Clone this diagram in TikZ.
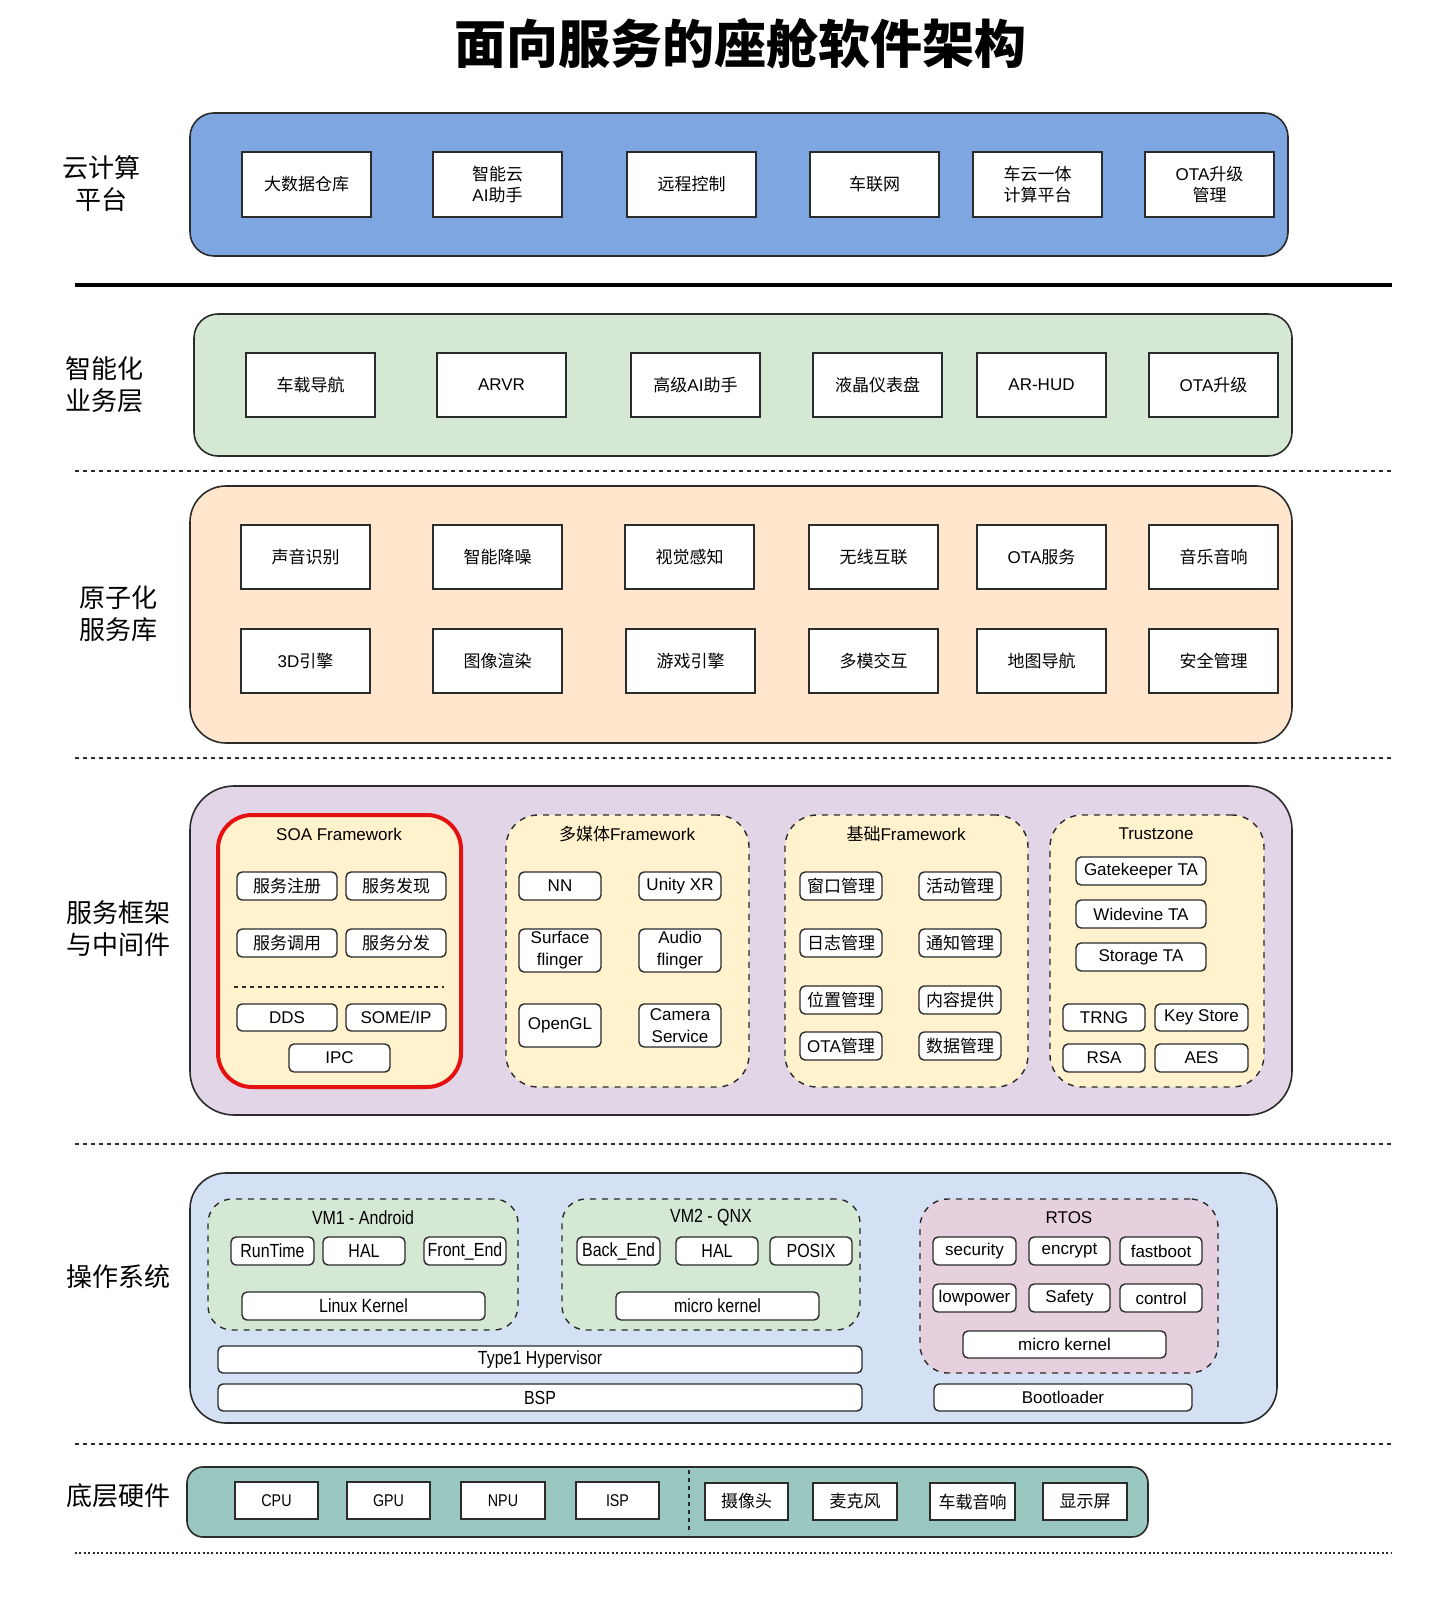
\documentclass[tikz,border=0pt]{standalone}
\usepackage{fontspec}
\setmainfont{Liberation Sans}
\newfontfamily\cjk{Noto Sans CJK SC}
\newfontfamily\narrowfont{Liberation Sans}[FakeStretch=0.84]
\XeTeXinterchartokenstate=1
\newXeTeXintercharclass\CJKcls
\newcount\cjkc
\cjkc="4E00
\loop\XeTeXcharclass\cjkc=\CJKcls\ifnum\cjkc<"9FFF\advance\cjkc by 1\repeat
\cjkc="3000
\loop\XeTeXcharclass\cjkc=\CJKcls\ifnum\cjkc<"303F\advance\cjkc by 1\repeat
\cjkc="FF00
\loop\XeTeXcharclass\cjkc=\CJKcls\ifnum\cjkc<"FFEF\advance\cjkc by 1\repeat
\XeTeXinterchartoks 0 \CJKcls={\begingroup\cjk}
\XeTeXinterchartoks 4095 \CJKcls={\begingroup\cjk}
\XeTeXinterchartoks \CJKcls 0={\endgroup}
\XeTeXinterchartoks \CJKcls 4095={\endgroup}
\definecolor{cloudc}{HTML}{7EA6E0}
\definecolor{bizc}{HTML}{D5E8D4}
\definecolor{atomc}{HTML}{FFE6CC}
\definecolor{fwc}{HTML}{E1D5E7}
\definecolor{yelc}{HTML}{FFF2CC}
\definecolor{osc}{HTML}{D4E1F5}
\definecolor{vmc}{HTML}{D5E8D4}
\definecolor{rtosc}{HTML}{E6D0DE}
\definecolor{hwc}{HTML}{9AC7BF}
\definecolor{redc}{HTML}{E51010}
\definecolor{linec}{HTML}{2B2B2B}
\newcommand\mybox[7][]{\node[#1, minimum width={(#5-#3)*0.5pt}, minimum height={(#6-#4)*0.5pt}] (#2) at ({(#3+#5)/2},{(#4+#6)/2}) {#7};}
\begin{document}
\begin{tikzpicture}[x=0.5pt,y=-0.5pt,
  layer/.style={draw=linec, line width=0.8pt, rounded corners=12pt, inner sep=0pt, outer sep=0pt},
  sq/.style={draw=linec, fill=white, line width=0.7pt, inner sep=1pt, outer sep=0pt, align=center, font=\fontsize{8.5}{10.5}\selectfont},
  rb/.style={sq, rounded corners=2.5pt},
  ob/.style={rb, inner sep=0.5pt, font=\narrowfont\fontsize{9.5}{11}\selectfont},
  hb/.style={sq, font=\narrowfont\fontsize{8.5}{10}\selectfont},
  grp/.style={draw=linec, dashed, line width=0.7pt, rounded corners=16pt, inner sep=0pt, outer sep=0pt},
  ttl/.style={font=\fontsize{8.5}{10}\selectfont, inner sep=0pt},
  ottl/.style={font=\narrowfont\fontsize{9.5}{11}\selectfont, inner sep=0pt},
  lab/.style={font=\fontsize{13}{16}\selectfont, align=center, inner sep=0pt},
  sepl/.style={draw=linec, line width=0.7pt, dash pattern=on 2pt off 2pt}
]
\useasboundingbox (0,0) rectangle (1440,1604);
\fill[white] (0,0) rectangle (1440,1604);

% title
\node[font=\fontsize{26}{30}\selectfont\bfseries, inner sep=0pt] (title) at (740,44) {面向服务的座舱软件架构};

% ---------- cloud layer
\mybox[layer, fill=cloudc]{cloud}{190}{113}{1288}{256}{}
\node[lab] (lcloud) at (101,184) {云计算\\平台};
\mybox[sq]{c1}{242}{152}{371}{217}{大数据仓库}
\mybox[sq]{c2}{433}{152}{562}{217}{智能云\\AI助手}
\mybox[sq]{c3}{627}{152}{756}{217}{远程控制}
\mybox[sq]{c4}{810}{152}{939}{217}{车联网}
\mybox[sq]{c5}{973}{152}{1102}{217}{车云一体\\计算平台}
\mybox[sq]{c6}{1145}{152}{1274}{217}{OTA升级\\管理}
\draw[line width=2pt] (75,285) -- (1392,285);

% ---------- business layer
\mybox[layer, fill=bizc]{biz}{194}{314}{1292}{456}{}
\node[lab] (lbiz) at (104,385) {智能化\\业务层};
\mybox[sq]{b1}{246}{353}{375}{417}{车载导航}
\mybox[sq]{b2}{437}{353}{566}{417}{ARVR}
\mybox[sq]{b3}{631}{353}{760}{417}{高级AI助手}
\mybox[sq]{b4}{813}{353}{942}{417}{液晶仪表盘}
\mybox[sq]{b5}{977}{353}{1106}{417}{AR-HUD}
\mybox[sq]{b6}{1149}{353}{1278}{417}{OTA升级}
\draw[sepl] (75,471) -- (1392,471);

% ---------- atomic services
\mybox[layer, fill=atomc, rounded corners=18pt]{atom}{190}{486}{1292}{743}{}
\node[lab] (latom) at (118,614) {原子化\\服务库};
\mybox[sq]{a1}{241}{525}{370}{589}{声音识别}
\mybox[sq]{a2}{433}{525}{562}{589}{智能降噪}
\mybox[sq]{a3}{625}{525}{754}{589}{视觉感知}
\mybox[sq]{a4}{809}{525}{938}{589}{无线互联}
\mybox[sq]{a5}{977}{525}{1106}{589}{OTA服务}
\mybox[sq]{a6}{1149}{525}{1278}{589}{音乐音响}
\mybox[sq]{a7}{241}{629}{370}{693}{3D引擎}
\mybox[sq]{a8}{433}{629}{562}{693}{图像渲染}
\mybox[sq]{a9}{626}{629}{755}{693}{游戏引擎}
\mybox[sq]{a10}{809}{629}{938}{693}{多模交互}
\mybox[sq]{a11}{977}{629}{1106}{693}{地图导航}
\mybox[sq]{a12}{1149}{629}{1278}{693}{安全管理}
\draw[sepl] (75,758) -- (1392,758);

% ---------- framework & middleware
\mybox[layer, fill=fwc, rounded corners=22pt]{fw}{190}{786}{1292}{1115}{}
\node[lab] (lfw) at (118,929) {服务框架\\与中间件};
% SOA
\mybox[draw=redc, line width=2pt, fill=yelc, rounded corners=17pt, inner sep=0pt]{soa}{218}{815}{461}{1087}{}
\node[ttl] (soat) at (339,834) {SOA Framework};
\mybox[rb]{s1}{237}{872}{337}{900}{服务注册}
\mybox[rb]{s2}{346}{872}{446}{900}{服务发现}
\mybox[rb]{s3}{237}{929}{337}{957}{服务调用}
\mybox[rb]{s4}{346}{929}{446}{957}{服务分发}
\draw[sepl] (234,987) -- (444,987);
\mybox[rb]{s5}{237}{1004}{337}{1031}{DDS}
\mybox[rb]{s6}{346}{1004}{446}{1031}{SOME/IP}
\mybox[rb]{s7}{289}{1044}{390}{1072}{IPC}
% multimedia
\mybox[grp, fill=yelc]{mm}{506}{815}{749}{1087}{}
\node[ttl] (mmt) at (627,834) {多媒体Framework};
\mybox[rb]{m1}{519}{872}{601}{900}{NN}
\mybox[rb]{m2}{639}{872}{721}{900}{Unity XR}
\mybox[rb, font=\fontsize{8.5}{11}\selectfont]{m3}{519}{929}{601}{972}{Surface\\flinger}
\mybox[rb, font=\fontsize{8.5}{11}\selectfont]{m4}{639}{929}{721}{972}{Audio\\flinger}
\mybox[rb]{m5}{519}{1004}{601}{1047}{OpenGL}
\mybox[rb, font=\fontsize{8.5}{11}\selectfont]{m6}{639}{1004}{721}{1047}{Camera\\Service}
% basic framework
\mybox[grp, fill=yelc]{bf}{785}{815}{1028}{1087}{}
\node[ttl] (bft) at (906,834) {基础Framework};
\mybox[rb]{f1}{800}{872}{882}{900}{窗口管理}
\mybox[rb]{f2}{919}{872}{1001}{900}{活动管理}
\mybox[rb]{f3}{800}{929}{882}{957}{日志管理}
\mybox[rb]{f4}{919}{929}{1001}{957}{通知管理}
\mybox[rb]{f5}{800}{986}{882}{1014}{位置管理}
\mybox[rb]{f6}{919}{986}{1001}{1014}{内容提供}
\mybox[rb]{f7}{800}{1032}{882}{1060}{OTA管理}
\mybox[rb]{f8}{919}{1032}{1001}{1060}{数据管理}
% trustzone
\mybox[grp, fill=yelc]{tz}{1050}{815}{1264}{1087}{}
\node[ttl] (tzt) at (1156,834) {Trustzone};
\mybox[rb]{t1}{1076}{857}{1206}{885}{Gatekeeper TA}
\mybox[rb]{t2}{1076}{900}{1206}{928}{Widevine TA}
\mybox[rb]{t3}{1076}{943}{1206}{971}{Storage TA}
\mybox[rb]{t4}{1063}{1004}{1145}{1031}{TRNG}
\mybox[rb]{t5}{1155}{1004}{1248}{1031}{Key Store}
\mybox[rb]{t6}{1063}{1044}{1145}{1072}{RSA}
\mybox[rb]{t7}{1155}{1044}{1248}{1072}{AES}
\draw[sepl] (75,1144) -- (1392,1144);

% ---------- operating system
\mybox[layer, fill=osc, rounded corners=18pt]{os}{190}{1173}{1277}{1423}{}
\node[lab] (los) at (118,1277) {操作系统};
\mybox[grp, fill=vmc, rounded corners=12pt]{vm1}{208}{1199}{518}{1330}{}
\node[ottl] (vm1t) at (363,1218) {VM1 - Android};
\mybox[ob]{v1}{231}{1237}{314}{1265}{RunTime}
\mybox[ob]{v2}{323}{1237}{405}{1265}{HAL}
\mybox[ob]{v3}{424}{1237}{506}{1265}{Front\_End}
\mybox[ob]{v4}{242}{1292}{485}{1320}{Linux Kernel}
\mybox[grp, fill=vmc, rounded corners=12pt]{vm2}{562}{1199}{860}{1330}{}
\node[ottl] (vm2t) at (711,1218) {VM2 - QNX};
\mybox[ob]{q1}{577}{1237}{660}{1265}{Back\_End}
\mybox[ob]{q2}{676}{1237}{758}{1265}{HAL}
\mybox[ob]{q3}{770}{1237}{852}{1265}{POSIX}
\mybox[ob]{q4}{616}{1292}{819}{1320}{micro kernel}
\mybox[ob]{hyp}{218}{1346}{862}{1373}{Type1 Hypervisor}
\mybox[ob]{bsp}{218}{1384}{862}{1411}{BSP}
\mybox[grp, fill=rtosc, rounded corners=14pt]{rtos}{920}{1199}{1218}{1373}{}
\node[ttl] (rtost) at (1069,1218) {RTOS};
\mybox[rb]{r1}{933}{1237}{1016}{1265}{security}
\mybox[rb]{r2}{1029}{1237}{1110}{1265}{encrypt}
\mybox[rb]{r3}{1120}{1237}{1202}{1265}{fastboot}
\mybox[rb]{r4}{933}{1284}{1016}{1312}{lowpower}
\mybox[rb]{r5}{1029}{1284}{1110}{1312}{Safety}
\mybox[rb]{r6}{1120}{1284}{1202}{1312}{control}
\mybox[rb]{r7}{963}{1331}{1166}{1358}{micro kernel}
\mybox[rb]{boot}{934}{1384}{1192}{1411}{Bootloader}
\draw[sepl] (75,1444) -- (1392,1444);

% ---------- hardware
\mybox[layer, fill=hwc, rounded corners=8pt]{hw}{187}{1467}{1148}{1537}{}
\node[lab] (lhw) at (118,1496) {底层硬件};
\mybox[hb]{h1}{235}{1482}{318}{1519}{CPU}
\mybox[hb]{h2}{347}{1482}{430}{1519}{GPU}
\mybox[hb]{h3}{461}{1482}{545}{1519}{NPU}
\mybox[hb]{h4}{576}{1482}{659}{1519}{ISP}
\coordinate (dtop) at (689,1470);
\coordinate (dbot) at (689,1534);
\draw[sepl] (dtop) -- (dbot);
\mybox[hb]{h5}{705}{1483}{788}{1520}{摄像头}
\mybox[hb]{h6}{813}{1483}{897}{1520}{麦克风}
\mybox[hb]{h7}{930}{1483}{1015}{1520}{车载音响}
\mybox[hb]{h8}{1043}{1483}{1127}{1520}{显示屏}
\draw[draw=linec, line width=0.8pt, dash pattern=on 1pt off 1.2pt] (75,1553) -- (1392,1553);
\end{tikzpicture}
\end{document}
